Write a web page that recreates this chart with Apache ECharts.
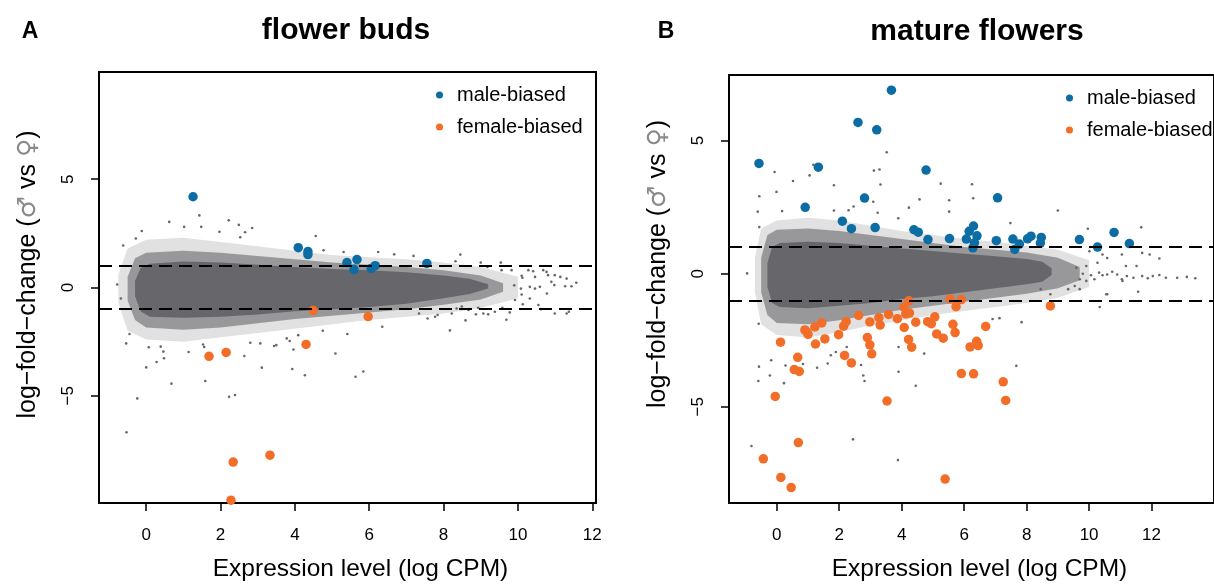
<!DOCTYPE html>
<html>
<head>
<meta charset="utf-8">
<script src="https://cdn.jsdelivr.net/npm/echarts@6/dist/echarts.min.js"></script>
<style>
html,body{margin:0;padding:0;background:#fff;}
#chart{width:1214px;height:587px;}
</style>
</head>
<body>
<div id="chart"></div>
<script>
// ---------- tick labels ----------
const xTicks = [0, 2, 4, 6, 8, 10, 12];
const yTicks = [-5, 0, 5];
const foldLines = [1, -1];

// ---------- panel A: flower buds ----------
// dense cloud envelope (x, upper, lower) in data units
const coreAx  = [-0.3, -0.15, 0.1, 1, 2, 3, 4, 5, 6, 7, 8, 8.7, 9.2];
const coreAup = [0.3, 0.9, 1.1, 1.2, 1.15, 1.05, 0.95, 0.85, 0.8, 0.7, 0.55, 0.4, 0.15];
const coreAlo = [-0.4, -1.1, -1.35, -1.4, -1.35, -1.25, -1.1, -1.0, -0.9, -0.75, -0.5, -0.3, -0.05];
const midAx  = [-0.5, -0.3, 0, 1, 2, 3, 4, 5, 6, 7, 8, 9, 9.6];
const midAup = [0.5, 1.35, 1.6, 1.7, 1.6, 1.45, 1.3, 1.15, 1.05, 0.95, 0.8, 0.55, 0.2];
const midAlo = [-0.6, -1.5, -1.85, -1.95, -1.85, -1.65, -1.45, -1.3, -1.15, -1.0, -0.8, -0.55, -0.2];
const outAx  = [-0.75, -0.5, 0, 1, 2, 3, 4, 5, 6, 7, 8, 9, 10];
const outAup = [0.6, 1.8, 2.2, 2.3, 2.1, 1.9, 1.7, 1.5, 1.4, 1.3, 1.15, 0.95, 0.5];
const outAlo = [-0.7, -2.0, -2.4, -2.5, -2.3, -2.1, -1.9, -1.7, -1.5, -1.35, -1.2, -0.95, -0.5];
// scattered genes outside the dense cloud
const grayA = [
 [-0.12,2.61],[-0.28,2.26],[-0.62,1.94],[-0.78,0.14],[-0.68,-0.51],[-0.54,-2.58],[-0.45,-2.15],
 [0.62,3.03],[1.02,2.8],[1.43,3.33],[1.48,2.8],[2.22,3.1],[2.49,2.89],[2.85,2.75],[1.97,2.57],[2.66,2.55],[2.53,2.32],[4.56,2.38],
 [0.0,-3.69],[0.28,-3.44],[0.68,-4.44],[1.59,-4.32],[1.14,-2.98],[1.53,-2.63],[2.8,-2.55],[3.11,-3.7],[0.39,-2.73],[0.46,-2.96],[0.07,-2.76],
 [-0.53,-6.68],[-0.24,-5.12],[2.23,-5.05],[2.39,-4.96],[3.93,-3.76],[4.27,-4.05],[5.63,-4.12],[5.84,-3.88],[5.09,-3.05],[8.17,-1.98],
 [2.64,-3.16],[3.07,-2.58],[3.44,-2.7],[3.86,-2.47],[0.48,-3.27],[1.56,-2.75],[4.75,-2.0],
 [8.45,1.52],[7.19,1.46],[8.32,1.21],[8.59,-1.52],[9.69,-1.49],
 [3.5,-2.66],[3.96,-2.86],[3.78,-2.35],[4.09,-2.2],[5.41,-2.15],[6.35,-1.81],[6.67,1.53],[6.24,1.64],[4.77,1.72],[5.31,1.64],
 [11.57,0.22],[11.44,0.06],[11.27,0.06],[11.14,0.49],[11.31,0.41],[10.99,0.57],[10.99,-1.2],[11.31,-1.2],[11.37,-1.12],
 [10.78,-0.28],[10.98,0.11],[10.81,0.57],[10.68,0.8],[10.59,0.03],[10.46,0.49],[10.32,0.03],[10.28,0.8],[10.62,-1.0],
 [10.55,-0.81],[10.1,0.54],[10.08,-0.05],[10.1,-0.32],[10.13,-0.77],[9.92,-0.58],[9.9,0.1],[9.83,0.8],[9.54,1.15],
 [9.56,0.8],[9.78,-1.15],[9.58,-0.94],[9.0,1.15],[9.18,0.95],[9.38,-1.12],[9.2,-1.24],[9.07,-1.2],[8.93,-0.94],
 [8.87,-1.24],[8.67,-1.04],[8.49,-0.88],[8.35,-0.97],[8.22,-1.2],[7.84,-1.27],[7.77,-1.35],[7.57,-1.43],[7.34,-1.2],
 [10.12,0.45],[10.41,0.75],[10.32,-0.51],[10.46,-0.05],[10.9,0.26],[10.77,0.72]
];
const maleA = [
 [1.26,4.19],[4.09,1.84],[4.35,1.66],[4.35,1.52],[5.4,1.15],[5.67,1.29],[5.59,0.83],[6.05,0.88],[6.16,1.01],[7.55,1.11]
];
const femaleA = [
 [1.69,-3.18],[2.15,-3.0],[4.49,-1.06],[5.97,-1.34],[4.3,-2.63],[2.34,-8.06],[3.33,-7.74],[2.28,-9.82]
];

// ---------- panel B: mature flowers ----------
const coreBx  = [-0.3, -0.15, 0.1, 1, 2, 3, 4, 5, 6, 7, 8, 8.5, 8.8];
const coreBup = [0.4, 1.0, 1.15, 1.2, 1.15, 1.05, 0.95, 0.85, 0.75, 0.65, 0.55, 0.45, 0.2];
const coreBlo = [-0.5, -1.1, -1.25, -1.3, -1.2, -1.1, -0.95, -0.85, -0.7, -0.55, -0.4, -0.3, -0.05];
const midBx  = [-0.5, -0.3, 0, 1, 2, 3, 4, 5, 6, 7, 8, 9, 9.7];
const midBup = [0.6, 1.45, 1.65, 1.7, 1.6, 1.45, 1.3, 1.15, 1.0, 0.9, 0.8, 0.6, 0.25];
const midBlo = [-0.7, -1.55, -1.85, -1.9, -1.75, -1.55, -1.35, -1.2, -1.05, -0.9, -0.75, -0.55, -0.25];
const outBx  = [-0.7, -0.5, 0, 1, 2, 3, 4, 5, 6, 7, 8, 9, 10];
const outBup = [0.6, 1.7, 2.0, 2.1, 2.0, 1.8, 1.6, 1.45, 1.3, 1.2, 1.05, 0.9, 0.5];
const outBlo = [-0.7, -1.9, -2.3, -2.4, -2.2, -1.95, -1.75, -1.55, -1.4, -1.25, -1.1, -0.9, -0.5];
const grayB = [
 [-0.07,3.82],[-0.56,2.91],[0.52,3.48],[-0.01,3.07],[-0.61,2.33],[-0.56,1.75],[0.17,2.35],[-0.95,0.01],
 [-0.57,-3.49],[-0.58,-1.88],[-0.22,-3.82],[-0.18,-3.25],[0.28,-3.45],[0.84,-3.39],[1.63,-3.37],[1.73,-3.06],[2.24,-2.75],[1.89,-2.94],
 [3.29,3.91],[3.11,3.87],[3.52,4.56],[3.09,2.7],[3.32,3.35],[2.3,2.38],[1.83,2.37],[2.46,2.52],[2.77,-3.82],[2.7,-3.43],
 [-0.81,-6.47],[3.88,-7.0],[2.44,-6.22],[-0.59,-4.03],[0.23,-4.11],[2.81,-4.03],[3.9,-3.68],[4.45,-4.21],[7.67,-3.46],[1.29,-3.53],
 [10.34,-1.25],[11.57,-0.68],[7.84,-1.82],[6.91,-1.7],[7.13,-1.67],[4.72,-3.0],[3.9,-2.75],
 [1.05,3.69],[1.17,4.09],[1.83,3.32],[4.57,2.79],[5.52,2.76],[5.25,3.38],[5.52,2.33],[6.25,3.36],[6.29,2.83],[7.48,1.9],
 [9.0,2.37],[9.96,1.69],[11.67,1.74],[4.23,2.48],[3.23,2.29],[3.89,2.08],
 [11.05,0.72],[11.94,0.72],[12.25,0.57],[11.7,0.78],[11.52,0.29],[11.18,0.29],[10.55,-0.77],[12.82,-0.15],[13.13,-0.12],
 [13.4,-0.17],[12.46,-0.15],[12.25,-0.05],[12.04,-0.09],[11.88,-0.17],[11.7,-0.09],[11.42,-0.15],[11.21,-0.09],[11.05,-0.21],
 [10.9,-0.03],[10.74,0.07],[10.58,-0.03],[11.07,-0.27],[10.43,-0.06],[10.32,0.04],[10.17,-0.21],[10.06,-0.06],[9.91,-0.27],
 [9.8,0.0],[9.7,-0.21],[10.58,0.59],[10.43,0.72],[10.27,0.41],[10.01,0.84],[9.91,0.29],[9.59,0.22],[9.54,-0.46],[9.7,-0.58],
 [9.33,-0.58],[8.76,-0.77],[8.45,-0.58],[10.58,-0.77]
];
const maleB = [
 [-0.57,4.14],[1.33,4.0],[0.91,2.49],[2.1,1.97],[2.39,1.69],[2.6,5.68],[2.81,2.84],[3.15,1.73],[3.2,5.4],[3.67,6.89],
 [4.39,1.65],[4.53,1.56],[4.78,3.89],[4.84,1.28],[5.53,1.32],[6.07,1.3],[6.16,1.59],[6.3,1.79],[6.41,1.42],[6.33,1.16],[6.28,0.97],
 [7.03,1.24],[7.07,2.85],[7.56,1.3],[7.77,1.11],[7.62,0.91],[8.03,1.31],[8.14,1.41],[8.47,1.36],[8.44,1.15],[9.69,1.28],[10.27,1.0],[10.8,1.55],[11.29,1.13]
];
const femaleB = [
 [-0.43,-6.95],[-0.05,-4.61],[0.13,-7.65],[0.46,-8.03],[0.69,-6.34],
 [0.12,-2.57],[0.67,-3.14],[0.56,-3.6],[0.72,-3.67],
 [0.9,-2.11],[1.0,-2.28],[0.96,-2.18],[1.22,-2.0],[1.24,-2.64],[1.44,-1.85],[1.54,-2.45],
 [1.98,-2.29],[2.14,-1.97],[2.22,-1.8],[2.17,-3.07],[2.39,-3.35],[2.62,-1.57],
 [2.98,-1.81],[2.9,-2.4],[2.98,-2.67],[3.04,-3.01],[3.27,-1.65],[3.31,-1.93],[3.58,-1.53],
 [3.53,-4.78],[3.86,-1.69],[4.08,-2.02],[4.07,-1.26],[4.13,-1.51],[4.25,-1.48],[4.23,-1.02],
 [4.22,-2.47],[4.32,-2.76],[4.45,-1.82],[4.83,-1.8],[4.95,-1.88],[5.06,-1.62],[5.12,-2.26],[5.33,-2.42],
 [5.39,-7.71],[5.55,-0.95],[5.74,-1.24],[5.91,-0.97],[5.64,-1.9],[5.71,-2.21],
 [5.91,-3.75],[6.3,-3.76],[6.19,-2.75],[6.4,-2.54],[6.45,-2.7],[6.69,-1.98],
 [7.25,-4.06],[7.33,-4.76],[8.76,-1.21]
];

// ---------- styling ----------
const FONT = '"Liberation Sans", Arial, Helvetica, sans-serif';
const GRAY = '#67676b';
const BLUE = '#0b6da3';
const ORANGE = '#f26d28';

function rows(xs, up, lo) { return xs.map((x, i) => [x, up[i], lo[i]]); }

function bandSeries(gi, xs, up, lo, opacity) {
  return {
    type: 'custom', xAxisIndex: gi, yAxisIndex: gi, z: 1, silent: true, clip: true,
    data: rows(xs, up, lo),
    renderItem: function (params, api) {
      if (params.dataIndex !== 0) return null;
      const pts = [];
      for (let i = 0; i < xs.length; i++) pts.push(api.coord([xs[i], up[i]]));
      for (let i = xs.length - 1; i >= 0; i--) pts.push(api.coord([xs[i], lo[i]]));
      return { type: 'polygon', shape: { points: pts },
               style: { fill: GRAY, opacity: opacity } };
    }
  };
}

function xAxisCfg(gi, min, max, nameShift) {
  return {
    type: 'value', gridIndex: gi, min: min, max: max,
    axisLine: { show: false, onZero: false },
    splitLine: { show: false },
    axisTick: { show: true, length: 8, customValues: xTicks, lineStyle: { color: '#000', width: 1.5 } },
    axisLabel: { customValues: xTicks, margin: 24, fontSize: 17, color: '#000', fontFamily: FONT },
    name: 'Expression level (log CPM)', nameLocation: 'middle', nameGap: 54,
    nameTextStyle: { fontSize: 24.5, color: '#000', fontFamily: FONT, padding: [0, 0, 0, nameShift] }
  };
}
function yAxisCfg(gi, min, max, nameShift) {
  return {
    type: 'value', gridIndex: gi, min: min, max: max,
    axisLine: { show: false, onZero: false },
    splitLine: { show: false },
    axisTick: { show: true, length: 8, customValues: yTicks, lineStyle: { color: '#000', width: 1.5 } },
    axisLabel: { customValues: yTicks, rotate: 90, margin: 22, fontSize: 17, color: '#000', fontFamily: FONT,
                 formatter: v => String(v).replace('-', '\u2212') },
    name: 'log\u2212fold\u2212change ({g|\u2642} vs {g|\u2640})', nameLocation: 'middle', nameRotate: 90, nameGap: 58,
    nameTextStyle: { fontSize: 25, color: '#000', fontFamily: FONT, padding: [0, 0, 0, nameShift],
      rich: { g: { fontSize: 25, color: '#8a8a8a', fontFamily: '"DejaVu Sans", sans-serif' } } }
  };
}

function panelSeries(gi, bands, gray, male, female) {
  const s = [];
  bands.forEach(b => s.push(bandSeries(gi, b[0], b[1], b[2], b[3])));
  s.push({
    type: 'scatter', name: 'gray', xAxisIndex: gi, yAxisIndex: gi, z: 2, silent: true,
    symbol: 'circle', symbolSize: 2.6, itemStyle: { color: GRAY, opacity: 1 }, data: gray,
    markLine: { silent: true, symbol: ['none', 'none'], label: { show: false },
      lineStyle: { color: '#000', width: 2, type: [13, 7] },
      data: foldLines.map(v => ({ yAxis: v })) }
  });
  s.push({ type: 'scatter', name: 'male-biased', xAxisIndex: gi, yAxisIndex: gi, z: 4,
    symbol: 'circle', symbolSize: 9.5, itemStyle: { color: BLUE, opacity: 1 }, data: male });
  s.push({ type: 'scatter', name: 'female-biased', xAxisIndex: gi, yAxisIndex: gi, z: 4,
    symbol: 'circle', symbolSize: 9.5, itemStyle: { color: ORANGE, opacity: 1 }, data: female });
  return s;
}

function legendCfg(left, top) {
  return {
    data: ['male-biased', 'female-biased'], orient: 'vertical', left: left, top: top,
    icon: 'circle', itemWidth: 7, itemHeight: 7, itemGap: 12, selectedMode: false,
    itemStyle: { opacity: 1 },
    textStyle: { fontSize: 20, color: '#000', fontFamily: FONT, lineHeight: 20, padding: [0, 0, 0, 9] }
  };
}

const chart = echarts.init(document.getElementById('chart'), null, { renderer: 'canvas' });
chart.setOption({
  animation: false,
  backgroundColor: '#fff',
  title: [
    { text: 'A', left: 25, top: 15, textAlign: 'center', textStyle: { fontSize: 23, fontWeight: 'bold', color: '#000', fontFamily: FONT } },
    { text: 'flower buds', left: 341, top: 11, textAlign: 'center', textStyle: { fontSize: 30, fontWeight: 'bold', color: '#000', fontFamily: FONT } },
    { text: 'B', left: 661, top: 15, textAlign: 'center', textStyle: { fontSize: 23, fontWeight: 'bold', color: '#000', fontFamily: FONT } },
    { text: 'mature flowers', left: 972, top: 12, textAlign: 'center', textStyle: { fontSize: 30, fontWeight: 'bold', color: '#000', fontFamily: FONT } }
  ],
  legend: [legendCfg(431, 80), legendCfg(1061, 83)],
  grid: [
    { left: 99, top: 72, width: 497, height: 434, show: true, borderColor: '#000', borderWidth: 2, backgroundColor: 'transparent' },
    { left: 729, top: 75, width: 497, height: 433, show: true, borderColor: '#000', borderWidth: 2, backgroundColor: 'transparent' }
  ],
  xAxis: [xAxisCfg(0, -1.27, 12.1, 26), xAxisCfg(1, -1.53, 14.0, 16)],
  yAxis: [yAxisCfg(0, -9.95, 9.95, 26), yAxisCfg(1, -8.61, 7.46, 50)],
  series: [].concat(
    panelSeries(0, [[outAx, outAup, outAlo, 0.2], [midAx, midAup, midAlo, 0.6], [coreAx, coreAup, coreAlo, 1]], grayA, maleA, femaleA),
    panelSeries(1, [[outBx, outBup, outBlo, 0.2], [midBx, midBup, midBlo, 0.6], [coreBx, coreBup, coreBlo, 1]], grayB, maleB, femaleB)
  )
});
</script>
</body>
</html>
